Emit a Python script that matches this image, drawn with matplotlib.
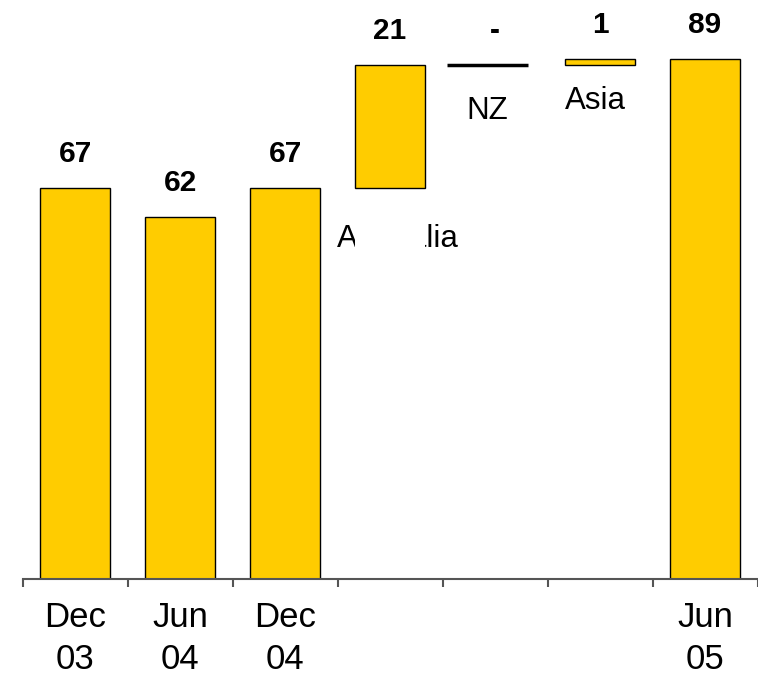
import matplotlib
matplotlib.use("Agg")
import matplotlib.pyplot as plt
import numpy as np

plt.rcParams['font.family'] = ['Liberation Sans', 'DejaVu Sans']

# data for fossefallet
kategorier = ["Dec\n03", "Jun\n04", "Dec\n04", "", "", "", "Jun\n05"]
endringsnavn = ["", "", "", "Australia", "NZ", "Asia", ""]
verdier = [67, 62, 67, 21, 0, 1, 89]
er_total = [True, True, True, False, False, False, True]
verditekst = ["67", "62", "67", "21", "-", "1", "89"]

gul = "#FFCC00"
bredde = 0.67
skjult = ["Australia"]  # etiketter som havner bak den hvite sokkelen
# forskyvning (piksler) for navnene under endringsstolpene
navneflytt = {"Australia": (8, -51), "NZ": (-8, -46), "Asia": (-5, -36)}

fig = plt.figure(figsize=(7.58, 6.78), dpi=100)
ax = fig.add_axes([22.7/758, 1-578.7/678, (757.5-22.7)/758, 578.7/678])

x = np.arange(len(verdier))
niva = 0
for i in range(len(verdier)):
    if er_total[i]:
        bunn = 0
        topp = verdier[i]
        niva = verdier[i]
    else:
        bunn = niva
        topp = niva + verdier[i]
        niva = topp
        # hvit sokkel under den flytende stolpen
        ax.bar(x[i], bunn, width=bredde, color="white", edgecolor="none", zorder=3)

    if verdier[i] == 0:
        # ingen endring: bare en strek
        ax.hlines(bunn, x[i]-0.46, x[i]+0.31, color="black", lw=2.5, zorder=4)
    else:
        ax.bar(x[i], topp-bunn, bottom=bunn, width=bredde, color=gul,
               edgecolor="black", linewidth=1.0, zorder=4)

    ax.annotate(verditekst[i], (x[i], topp), xytext=(0, 34), textcoords="offset pixels",
                ha="center", va="center", fontsize=21.5, fontweight="bold", zorder=5)

    if endringsnavn[i]:
        z = 2 if endringsnavn[i] in skjult else 5
        ax.annotate(endringsnavn[i], (x[i], bunn), xytext=navneflytt[endringsnavn[i]],
                    textcoords="offset pixels", ha="center", va="center", fontsize=22.5, zorder=z)

ax.set_xlim(-0.5, len(verdier)-0.5)
ax.set_ylim(0, 578.7/5.836)

# akser: bare bunnlinja med merker mellom kategoriene
for side in ["left", "right", "top"]:
    ax.spines[side].set_visible(False)
ax.spines["bottom"].set_color("#555555")
ax.spines["bottom"].set_linewidth(1.5)
ax.spines["bottom"].set_zorder(6)
ax.set_yticks([])
ax.set_xticks(x)
ax.set_xticklabels(kategorier, fontsize=25, linespacing=1.36)
ax.tick_params(axis="x", which="major", length=0, pad=16)
ax.set_xticks(np.arange(len(verdier)+1)-0.5, minor=True)
ax.tick_params(axis="x", which="minor", length=6, width=1.5, color="#555555", direction="out")
ax.patch.set_visible(False)

fig.savefig("out.png", dpi=100)
